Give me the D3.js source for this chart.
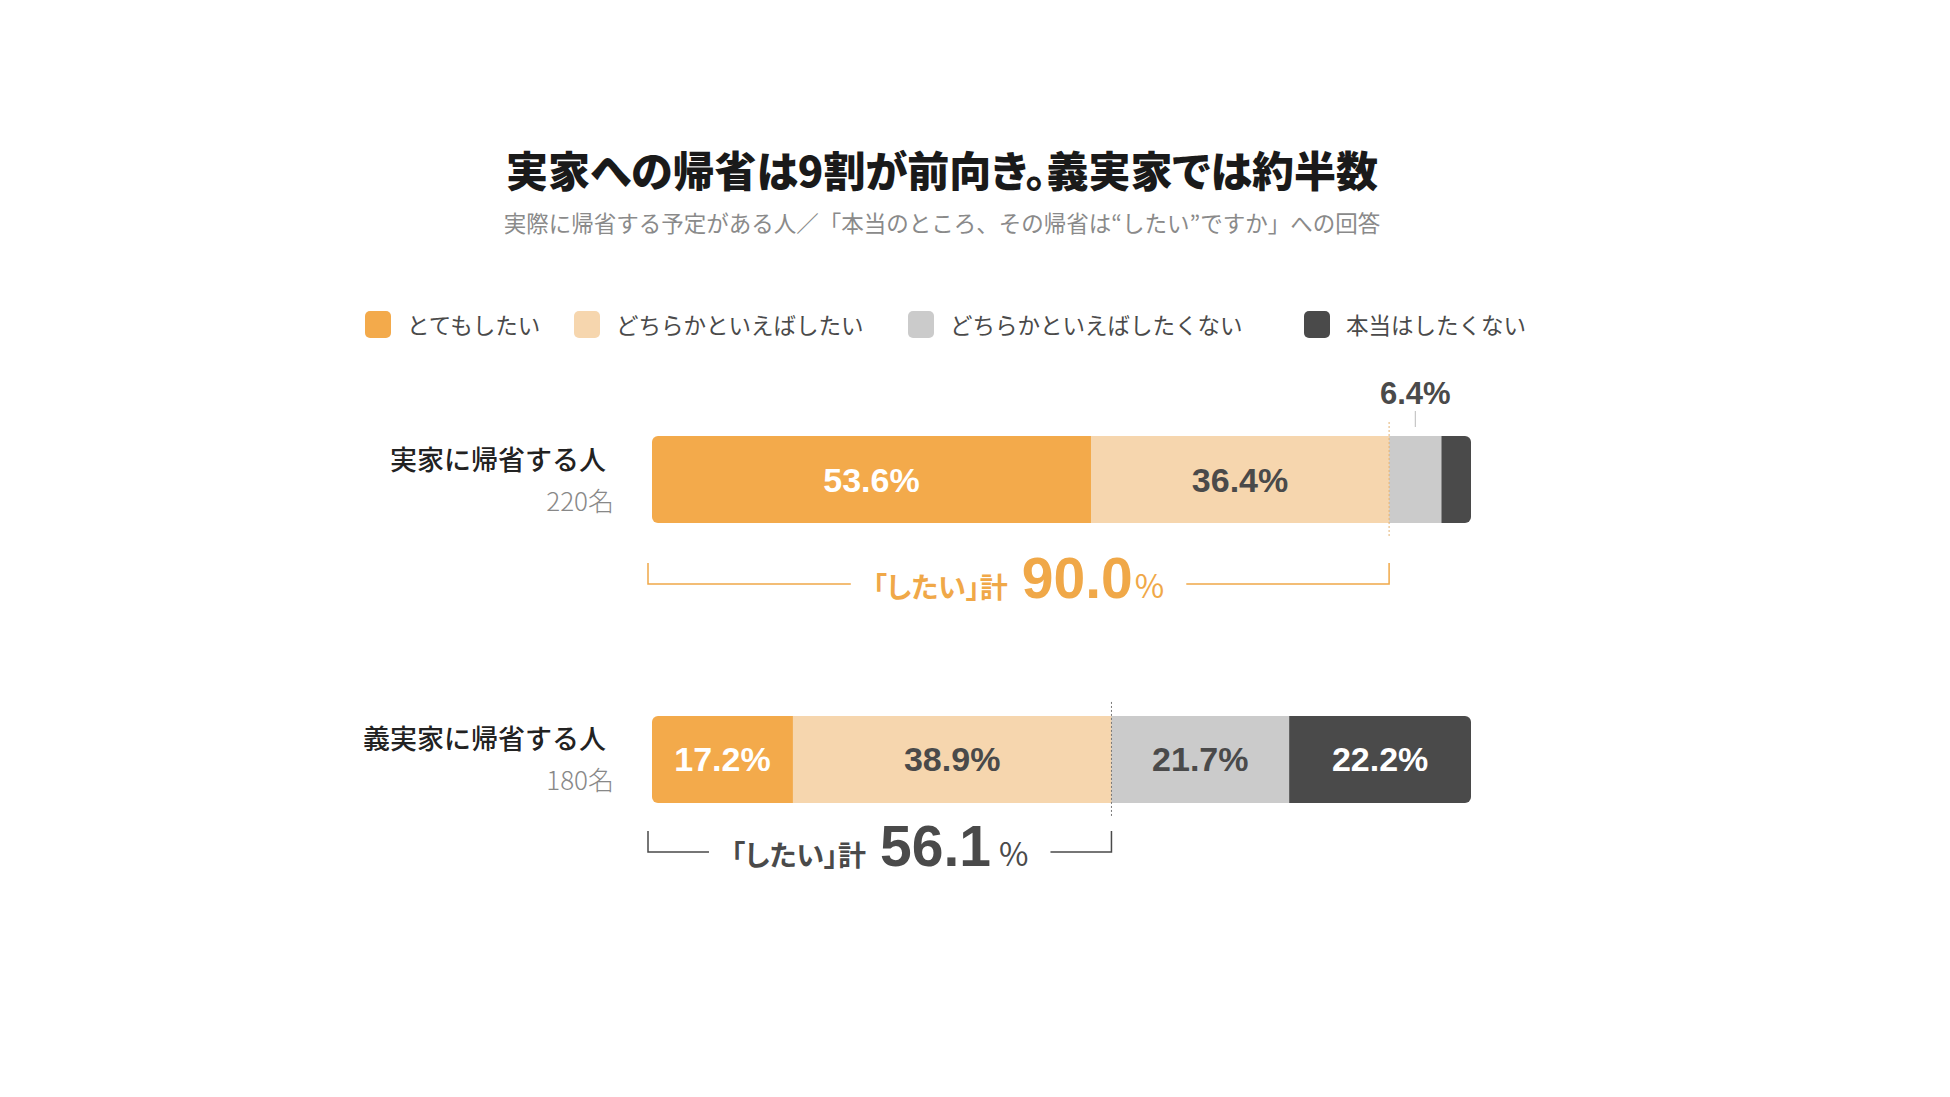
<!DOCTYPE html>
<html>
<head>
<meta charset="utf-8">
<script src="https://cdn.jsdelivr.net/npm/d3@7"></script>
<style>
  body { margin: 0; background: #fff; }
  svg { display: block; }
  text { font-family: "Noto Sans CJK JP", "Noto Sans", sans-serif; }
  .num { font-family: "Liberation Sans", Arial, sans-serif; font-weight: 700; }
  .palt { font-feature-settings: "palt"; }
</style>
</head>
<body>
<div id="chart"></div>
<script>
// data
const categories = ["とてもしたい", "どちらかといえばしたい", "どちらかといえばしたくない", "本当はしたくない"];
const rows = ["実家に帰省する人", "義実家に帰省する人"];
const counts = ["220名", "180名"];
const jikka = [53.6, 36.4, 6.4, 3.6];
const gijikka = [17.2, 38.9, 21.7, 22.2];
const totals = [90.0, 56.1];
const colors = ["#f3aa4b", "#f6d6ae", "#cbcbcb", "#4a4a4a"];
const labelColors = ["#fff", "#4a4a4a", "#4a4a4a", "#fff"];

const title = "実家への帰省は9割が前向き。義実家では約半数";
const subtitle = "実際に帰省する予定がある人／「本当のところ、その帰省は“したい”ですか」への回答";

const width = 1950, height = 1097;
const svg = d3.select("#chart").append("svg")
  .attr("width", width).attr("height", height);

const x = d3.scaleLinear().domain([0, 100]).range([652, 1471]);
const y = d3.scaleBand().domain(rows).range([436, 803]).paddingInner(0.689).paddingOuter(0);

// title
svg.append("text").attr("x", 942).attr("y", 168)
  .attr("text-anchor", "middle").attr("dominant-baseline", "central")
  .attr("font-size", 42).attr("font-weight", 900).attr("fill", "#1a1a1a")
  .attr("class", "palt")
  .text(title);
svg.append("text").attr("x", 942).attr("y", 222)
  .attr("text-anchor", "middle").attr("dominant-baseline", "central")
  .attr("font-size", 22.5).attr("fill", "#8a8a8a")
  .text(subtitle);

// legend
const legendX = [365, 574, 908, 1304];
const legend = svg.append("g").selectAll("g").data(categories).join("g")
  .attr("transform", (d, i) => `translate(${legendX[i]},311)`);
legend.append("rect").attr("width", 26).attr("height", 27).attr("rx", 5)
  .attr("fill", (d, i) => colors[i]);
legend.append("text").attr("x", 42).attr("y", 13)
  .attr("dominant-baseline", "central")
  .attr("font-size", 22.5).attr("fill", "#4a4a4a")
  .text(d => d);

const data = [jikka, gijikka];
const bracketGap = [61, 49];

data.forEach((vals, r) => {
  const row = rows[r];
  const y0 = y(row), bh = y.bandwidth();
  let acc = 0;
  const segs = vals.map((v, i) => { const s = { v, i, x0: acc, x1: acc + v }; acc += v; return s; });

  const clipId = "clip" + r;
  svg.append("clipPath").attr("id", clipId).append("rect")
    .attr("x", x(0)).attr("y", y0).attr("width", x(100) - x(0)).attr("height", bh).attr("rx", 6);

  const g = svg.append("g").attr("clip-path", `url(#${clipId})`);
  g.selectAll("rect").data(segs).join("rect")
    .attr("x", d => x(d.x0)).attr("y", y0)
    .attr("width", d => x(d.x1) - x(d.x0) + 0.5).attr("height", bh)
    .attr("fill", d => colors[d.i]);

  // inside labels
  svg.append("g").selectAll("text").data(segs.filter(d => d.v >= 10)).join("text")
    .attr("class", "num")
    .attr("x", d => x((d.x0 + d.x1) / 2)).attr("y", y0 + bh / 2 + 12)
    .attr("text-anchor", "middle").attr("font-size", 34)
    .attr("fill", d => labelColors[d.i])
    .text(d => d.v.toFixed(1) + "%");

  // outside labels for small segments
  segs.filter(d => d.v >= 5 && d.v < 10).forEach(d => {
    const cx = x((d.x0 + d.x1) / 2);
    svg.append("text").attr("class", "num")
      .attr("x", cx).attr("y", y0 - 32)
      .attr("text-anchor", "middle").attr("font-size", 31).attr("fill", "#4a4a4a")
      .text(d.v.toFixed(1) + "%");
    svg.append("line").attr("x1", cx).attr("x2", cx)
      .attr("y1", y0 - 25).attr("y2", y0 - 9)
      .attr("stroke", "#bbb").attr("stroke-width", 1);
  });

  // row labels
  svg.append("text").attr("x", 606).attr("y", y0 + 22)
    .attr("text-anchor", "end").attr("dominant-baseline", "central")
    .attr("font-size", 27).attr("font-weight", 500).attr("fill", "#222")
    .text(row);
  svg.append("text").attr("x", 614).attr("y", y0 + 63)
    .attr("text-anchor", "end").attr("dominant-baseline", "central")
    .attr("font-size", 26).attr("font-weight", 300).attr("fill", "#888")
    .text(counts[r]);

  // dotted divider at the total
  const tx = x(totals[r]);
  svg.append("line").attr("x1", tx).attr("x2", tx)
    .attr("y1", y0 - 14).attr("y2", y0 + bh + 13)
    .attr("stroke", r === 0 ? "#e3b272" : "#777").attr("stroke-width", 1)
    .attr("stroke-dasharray", "2,2");

  // bracket with total
  const col = r === 0 ? "#f0a848" : "#4a4a4a";
  const bl = x(0) - 4, br = tx;
  const by = y0 + bh + bracketGap[r], btop = by - 21;
  const base = by + 14;
  const t = svg.append("text").attr("x", (bl + br) / 2).attr("y", base)
    .attr("text-anchor", "middle").attr("fill", col).attr("font-weight", 700);
  t.append("tspan").attr("class", "palt").attr("font-size", 28).text("「したい」計");
  t.append("tspan").attr("class", "num").attr("dx", 14).attr("font-size", 57)
    .text(totals[r].toFixed(1));
  t.append("tspan").attr("dx", r === 0 ? 2 : 8).attr("font-size", 32)
    .attr("font-weight", 400).text("%");
  const bb = t.node().getBBox();
  const gap = 22;
  svg.append("path")
    .attr("d", `M${bl},${btop}V${by}H${bb.x - gap}M${bb.x + bb.width + gap},${by}H${br}V${btop}`)
    .attr("fill", "none").attr("stroke", col).attr("stroke-width", 1.5);
});
</script>
</body>
</html>
